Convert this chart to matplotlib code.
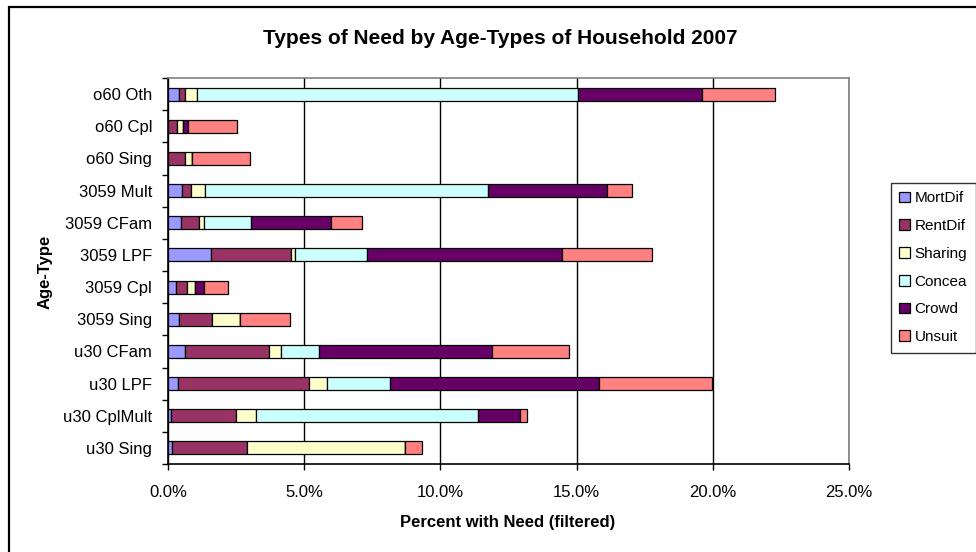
import numpy as np
import matplotlib
matplotlib.use("Agg")
import matplotlib.pyplot as plt
from matplotlib.patches import Rectangle
from matplotlib.ticker import FuncFormatter, MultipleLocator

plt.rcParams['font.family'] = ['Liberation Sans', 'DejaVu Sans']

# categories, bottom to top
categories = ["u30 Sing", "u30 CplMult", "u30 LPF", "u30 CFam", "3059 Sing",
              "3059 Cpl", "3059 LPF", "3059 CFam", "3059 Mult", "o60 Sing",
              "o60 Cpl", "o60 Oth"]

# percent with need, one list per type
mortdif = [0.15, 0.10, 0.36, 0.62, 0.40, 0.31, 1.57, 0.46, 0.50, 0.00, 0.00, 0.40]
rentdif = [2.75, 2.39, 4.81, 3.08, 1.23, 0.37, 2.93, 0.68, 0.35, 0.61, 0.34, 0.24]
sharing = [5.80, 0.74, 0.65, 0.43, 1.02, 0.31, 0.15, 0.17, 0.52, 0.27, 0.21, 0.41]
concea  = [0.00, 8.14, 2.34, 1.41, 0.00, 0.00, 2.64, 1.75, 10.39, 0.00, 0.00, 14.01]
crowd   = [0.00, 1.55, 7.66, 6.36, 0.00, 0.32, 7.16, 2.92, 4.37, 0.00, 0.20, 4.54]
unsuit  = [0.63, 0.27, 4.14, 2.82, 1.83, 0.91, 3.33, 1.16, 0.92, 2.12, 1.78, 2.69]

series = ["MortDif", "RentDif", "Sharing", "Concea", "Crowd", "Unsuit"]
colours = ["#9999FF", "#993366", "#FFFFCC", "#CCFFFF", "#660066", "#FF8080"]

fig = plt.figure(figsize=(9.76, 5.52), dpi=100)
ax = fig.add_axes([168 / 976, 88 / 552, (849 - 168) / 976, (464 - 78) / 552])

# outer chart border (runs off the right and bottom of the picture)
fig.patches.append(Rectangle((8.5 / 976, -0.1), 1.2, 1.1 - 6.5 / 552,
                             transform=fig.transFigure, fill=False,
                             edgecolor="black", linewidth=1.6, zorder=0))

y = np.arange(len(categories))
left = np.zeros(len(categories))
for name, vals, col in zip(series, [mortdif, rentdif, sharing, concea, crowd, unsuit], colours):
    vals = np.array(vals)
    ax.barh(y, vals, left=left, height=0.4, color=col, edgecolor="black",
            linewidth=0.9, label=name, zorder=3)
    left = left + vals

ax.set_xlim(0, 25)
ax.set_ylim(-0.5, len(categories) - 0.5)
ax.xaxis.set_major_locator(MultipleLocator(5))
ax.xaxis.set_major_formatter(FuncFormatter(lambda v, p: "%.1f%%" % v))
ax.grid(axis="x", color="black", linewidth=1.0, zorder=1)

ax.set_yticks(y)
ax.set_yticklabels(categories)
ax.set_yticks(np.arange(-0.5, len(categories)), minor=True)
ax.tick_params(axis="y", which="major", length=0, pad=11.5, labelsize=12)
ax.tick_params(axis="y", which="minor", length=4, width=1)
ax.tick_params(axis="x", length=4, width=1, pad=11, labelsize=12)

for s in ["top", "right"]:
    ax.spines[s].set_color("#808080")
    ax.spines[s].set_linewidth(1.2)
for s in ["left", "bottom"]:
    ax.spines[s].set_color("black")
    ax.spines[s].set_linewidth(1.2)

fig.text(500 / 976, 1 - 38 / 552, "Types of Need by Age-Types of Household 2007",
         ha="center", va="center", fontsize=15, fontweight="bold")
fig.text(508 / 976, 1 - 522 / 552, "Percent with Need (filtered)",
         ha="center", va="center", fontsize=12, fontweight="bold")
fig.text(45 / 976, 1 - 272 / 552, "Age-Type", rotation=90,
         ha="center", va="center", fontsize=12, fontweight="bold")

leg = fig.legend(loc="upper left", bbox_to_anchor=(891 / 976, 1 - 183 / 552),
                 fontsize=11, frameon=True, fancybox=False, edgecolor="black",
                 handlelength=0.7, handleheight=0.7, handletextpad=0.3,
                 labelspacing=0.9, borderpad=0.55, borderaxespad=0)
leg.get_frame().set_linewidth(1.0)

fig.savefig("out.png", dpi=100)
